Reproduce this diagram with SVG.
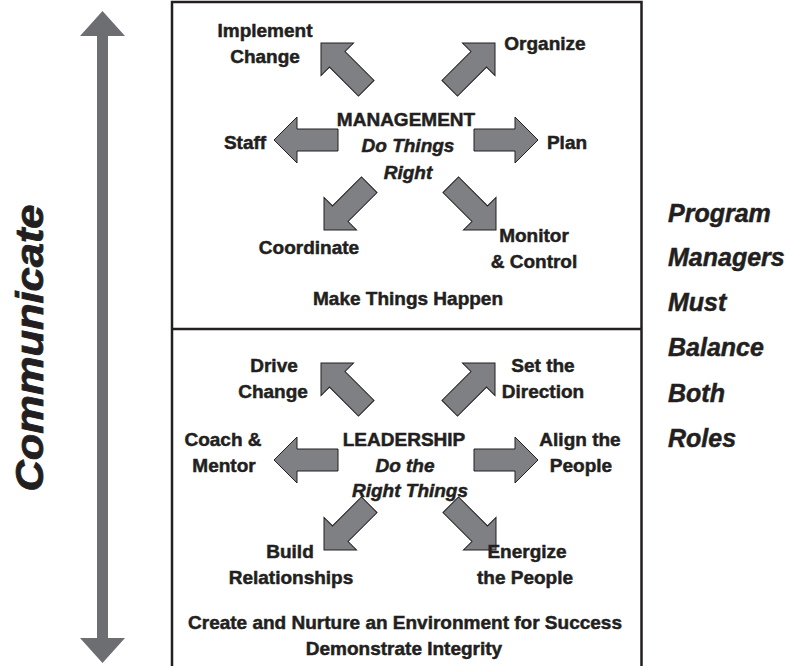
<svg xmlns="http://www.w3.org/2000/svg" width="795" height="666" viewBox="0 0 795 666">
<defs>
<style>
.t{font-family:"Liberation Sans",Arial,sans-serif;font-weight:bold;font-size:19px;fill:#231f20;stroke:#231f20;stroke-width:0.5;text-anchor:middle}
.i{font-style:italic}
.r{font-family:"Liberation Sans",Arial,sans-serif;font-weight:bold;font-style:italic;font-size:25px;fill:#231f20;stroke:#231f20;stroke-width:0.5}
.arr{fill:#7f8084;stroke:#231f20;stroke-width:1}
.frame{fill:none;stroke:#231f20;stroke-width:2.5}
</style>
<path id="ba" d="M0,0 L-23,-23 L-23,-11 L-64,-11 L-64,11 L-23,11 L-23,23 Z"/>
</defs>
<rect width="795" height="666" fill="#fff"/>
<g id="communicate-axis">
<polygon points="102.5,11 80,36 97,36 97,638 80,638 102.5,663 125,638 108,638 108,36 125,36" fill="#6d6e71"/>
<text transform="translate(43,348) rotate(-90)" font-family="Liberation Sans,Arial,sans-serif" font-weight="bold" font-style="italic" font-size="38" fill="#231f20" stroke="#231f20" stroke-width="0.8" text-anchor="middle" textLength="287" lengthAdjust="spacingAndGlyphs">Communicate</text>
</g>
<g id="frame">
<path class="frame" d="M172,668 V2 H641.5 V668 M172,329 H641.5"/>
</g>
<g id="connectors">
<use href="#ba" class="arr" transform="translate(274,140) rotate(180)"/>
<use href="#ba" class="arr" transform="translate(538,140)"/>
<use href="#ba" class="arr" transform="translate(321,43) rotate(-135)"/>
<use href="#ba" class="arr" transform="translate(495,43) rotate(-45)"/>
<use href="#ba" class="arr" transform="translate(324,230) rotate(135)"/>
<use href="#ba" class="arr" transform="translate(496,230) rotate(45)"/>
<use href="#ba" class="arr" transform="translate(274,460) rotate(180)"/>
<use href="#ba" class="arr" transform="translate(538,460)"/>
<use href="#ba" class="arr" transform="translate(321,363) rotate(-135)"/>
<use href="#ba" class="arr" transform="translate(495,363) rotate(-45)"/>
<use href="#ba" class="arr" transform="translate(324,550) rotate(135)"/>
<use href="#ba" class="arr" transform="translate(496,550) rotate(45)"/>
</g>
<g id="management">
<text class="t" x="406" y="126">MANAGEMENT</text>
<text class="t i" x="408" y="152">Do Things</text>
<text class="t i" x="408" y="179">Right</text>
</g>
<g id="implement-change"><text class="t" x="265" y="37">Implement</text><text class="t" x="265" y="63">Change</text></g>
<g id="organize"><text class="t" x="545" y="50">Organize</text></g>
<g id="staff"><text class="t" x="245" y="149">Staff</text></g>
<g id="plan"><text class="t" x="567" y="149">Plan</text></g>
<g id="coordinate"><text class="t" x="309" y="254">Coordinate</text></g>
<g id="monitor-control"><text class="t" x="534" y="242">Monitor</text><text class="t" x="534" y="268">&amp; Control</text></g>
<g id="make-things-happen"><text class="t" x="408" y="305">Make Things Happen</text></g>
<g id="leadership">
<text class="t" x="404" y="446">LEADERSHIP</text>
<text class="t i" x="405" y="472">Do the</text>
<text class="t i" x="410" y="497">Right Things</text>
</g>
<g id="drive-change"><text class="t" x="274" y="372">Drive</text><text class="t" x="273" y="398">Change</text></g>
<g id="set-direction"><text class="t" x="543" y="372">Set the</text><text class="t" x="543" y="398">Direction</text></g>
<g id="coach-mentor"><text class="t" x="223" y="446">Coach &amp;</text><text class="t" x="224" y="472">Mentor</text></g>
<g id="align-people"><text class="t" x="580" y="446">Align the</text><text class="t" x="581" y="472">People</text></g>
<g id="build-relationships"><text class="t" x="290" y="558">Build</text><text class="t" x="291" y="584">Relationships</text></g>
<g id="energize-people"><text class="t" x="527" y="558">Energize</text><text class="t" x="525" y="584">the People</text></g>
<g id="environment"><text class="t" x="405" y="629">Create and Nurture an Environment for Success</text><text class="t" x="404" y="655">Demonstrate Integrity</text></g>
<g id="balance-roles">
<text class="r" x="668" y="222">Program</text>
<text class="r" x="668" y="266">Managers</text>
<text class="r" x="668" y="311">Must</text>
<text class="r" x="668" y="356">Balance</text>
<text class="r" x="668" y="402">Both</text>
<text class="r" x="668" y="447">Roles</text>
</g>
</svg>
